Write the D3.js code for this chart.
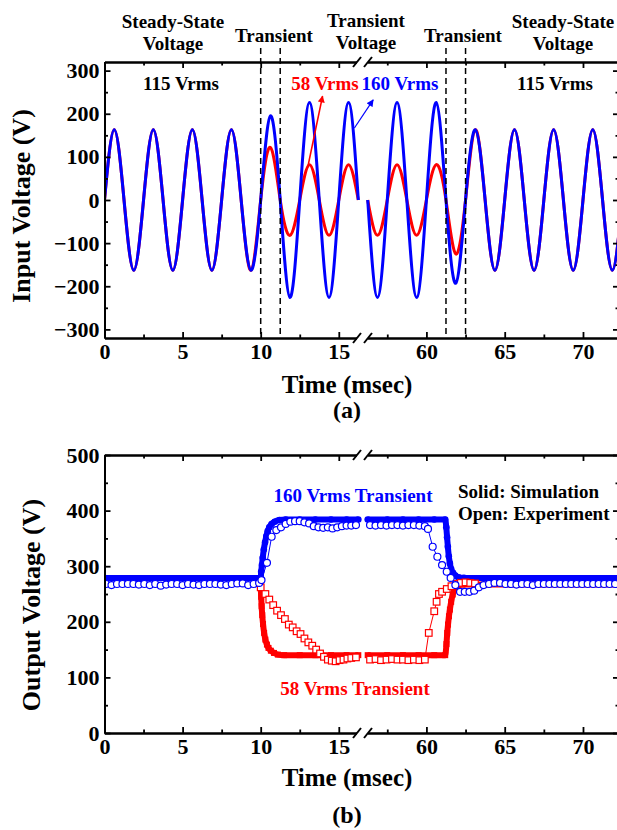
<!DOCTYPE html>
<html>
<head>
<meta charset="utf-8">
<script src="https://cdn.jsdelivr.net/npm/d3@7"></script>
<style>
  body { margin: 0; background: #fff; }
  text { font-family: "Liberation Serif", "Times New Roman", serif; font-weight: bold; }
</style>
</head>
<body>
<svg id="fig" width="617" height="830"></svg>
<script>
// ---------- data ----------
// time axis (ms) with a break between the two recorded windows
const timeBreak = [16.55, 55.95];
const timeEnd = 72.3;
const timeMajorTicks = [0, 5, 10, 15, 60, 65, 70];
const timeMinorTicks = [2.5, 7.5, 12.5, 57.5, 62.5, 67.5];

// (a) input voltage: peak value of every 400 Hz half-cycle (1.25 ms each)
const halfCycleMs = 1.25;
const windowStarts = [0, 56.25];
const inBluePeaksA = [163, -163, 163, -163, 163, -163, 163, -163, 195, -226, 226, -226, 226];
const inRedPeaksA  = [163, -163, 163, -163, 163, -163, 163, -163, 122, -82, 82, -82, 82];
const inBluePeaksB = [-226, 226, -226, 226, -193, 163, -163, 163, -163, 163, -163, 163, -163];
const inRedPeaksB  = [-82, 82, -82, 82, -125, 163, -163, 163, -163, 163, -163, 163, -163];
const transientEdges = [10, 11.25, 61.25, 62.5];
const inYMajor = [-300, -200, -100, 0, 100, 200, 300];
const inYMinor = [-250, -150, -50, 50, 150, 250];

// (b) output voltage, simulation (solid) — [time ms, volts], null splits the windows
const blueSim = [[0,279],[10.0,279],[10.03,290],[10.08,302],[10.13,315],[10.2,330],[10.28,343],[10.36,354],
  [10.45,363],[10.55,370],[10.7,376],[10.9,380],[11.2,383],[11.6,384],[12.5,384],[13.5,384],[14.5,384],[15.5,384],[16.25,384],
  null,
  [56.25,384],[57.5,384],[58.5,384],[59.5,384],[60.5,384],[61.2,384],[61.27,370],[61.32,352],[61.37,335],[61.43,318],
  [61.5,305],[61.58,295],[61.7,288],[61.85,283],[62.05,280],[62.4,279],[72.3,279]];
const redSimSteady = [[0,264],[10.0,264]];
const redSim = [[10.0,264],[10.03,245],[10.06,228],[10.1,212],[10.15,196],[10.22,180],[10.3,168],[10.4,159],
  [10.5,153],[10.65,148],[10.85,144],[11.1,141],[11.5,140],[12.5,140],[13.5,140],[14.5,140],[15.5,140],[16.25,140],
  null,
  [56.25,140],[57.5,140],[58.5,140],[59.5,140],[60.5,140],[61.2,140],[61.28,160],[61.33,180],[61.38,195],[61.44,210],
  [61.5,222],[61.58,236],[61.68,249],[61.8,258],[62.0,264],[62.3,267],[72.3,267]];

// (b) output voltage, experiment (open)
const blueExp = [[0.1,268],[0.45,266],[0.8,268],[1.15,268],[1.5,268],[1.85,268],[2.2,267],[2.55,268],[2.9,266],
  [3.25,268],[3.6,265],[3.95,267],[4.3,268],[4.65,268],[5.0,266],[5.35,268],[5.7,267],[6.05,266],[6.4,268],
  [6.75,268],[7.1,268],[7.45,267],[7.8,266],[8.15,268],[8.5,269],[8.85,269],[9.2,266],[9.55,268],[9.9,270],
  [10.05,275],[10.4,306],[10.7,353],[11.0,365],[11.3,370],[11.6,376],[11.9,380],[12.2,381],[12.5,381],[12.8,379],
  [13.1,377],[13.4,372],[13.7,370],[14.0,369],[14.3,370],[14.6,368],[14.9,370],[15.2,372],[15.5,373],[15.8,373],[16.1,374],
  null,
  [56.4,374],[56.75,373],[57.1,374],[57.45,373],[57.8,374],[58.15,374],[58.5,373],[58.85,374],[59.2,374],
  [59.55,373],[59.9,372],[60.1,367],[60.4,335],[60.7,317],[61.0,302],[61.3,290],[61.55,279],[61.85,266],
  [62.15,254],[62.45,254],[62.75,254],[63.05,256],[63.35,262],[63.65,266],[64.0,268],[64.35,270],[64.7,270],
  [65.05,268],[65.4,268],[65.75,267],[66.1,268],[66.45,268],[66.8,266],[67.15,268],[67.5,268],[67.85,268],
  [68.2,268],[68.55,268],[68.9,268],[69.25,268],[69.6,268],[69.95,268],[70.3,268],[70.65,268],[71.0,268],
  [71.35,268],[71.7,268],[72.05,268]];
const redExp = [[10.0,262],[10.3,250],[10.55,240],[10.8,230],[11.05,220],[11.3,212],[11.55,205],[11.8,195],
  [12.05,190],[12.3,183],[12.55,178],[12.8,170],[13.05,163],[13.3,157],[13.55,150],[13.8,143],[14.05,137],
  [14.3,132],[14.55,130],[14.8,129],[15.05,131],[15.3,132],[15.55,134],[15.8,135],[16.1,136],
  null,
  [56.4,132],[56.75,133],[57.1,131],[57.45,132],[57.8,133],[58.15,132],[58.5,132],[58.85,131],[59.2,132],
  [59.55,131],[59.9,132],[60.15,180],[60.5,219],[60.65,236],[60.8,250],[61.0,254],[61.3,259],[61.6,264],
  [61.9,268],[62.2,270],[62.5,271],[62.8,270],[63.1,269]];
const outYMajor = [0, 100, 200, 300, 400, 500];
const outYMinor = [50, 150, 250, 350, 450];

// ---------- drawing ----------
const BLUE = "#0000ff", RED = "#ff0000";
const svg = d3.select("#fig");

const x = d3.scaleLinear()
  .domain([0, timeBreak[0], timeBreak[1], timeEnd])
  .range([104.5, 363, 363, 619]);

const panels = [
  { y: d3.scaleLinear().domain([-320, 320]).range([338, 62]), major: inYMajor, minor: inYMinor,
    title: "Input Voltage (V)", titleX: 30, titleY: 206, xTitleY: 393, tag: "(a)", tagY: 418 },
  { y: d3.scaleLinear().domain([0, 500]).range([733, 455]), major: outYMajor, minor: outYMinor,
    title: "Output Voltage (V)", titleX: 40, titleY: 605, xTitleY: 786, tag: "(b)", tagY: 823 }
];

function styleAxis(g, fontSize) {
  g.attr("font-family", null).attr("font-size", null);
  g.selectAll("path.domain").attr("stroke", "#000").attr("stroke-width", 2);
  g.selectAll(".tick line").attr("stroke", "#000").attr("stroke-width", 1.8);
  g.selectAll(".tick text").attr("fill", "#000").style("font-size", fontSize + "px");
}

function drawFrame(p) {
  const [y0, y1] = p.y.range();
  const [xl, xr] = [x.range()[0], x.range()[3]];
  // bottom
  svg.append("g").attr("transform", `translate(0,${y0})`)
    .call(d3.axisBottom(x).tickValues(timeMajorTicks).tickSizeInner(-6).tickSizeOuter(0).tickPadding(5).tickFormat(d3.format("d")))
    .call(g => styleAxis(g, 22));
  svg.append("g").attr("transform", `translate(0,${y0})`)
    .call(d3.axisBottom(x).tickValues(timeMinorTicks).tickSizeInner(-3.5).tickSizeOuter(0).tickFormat(""))
    .call(g => styleAxis(g, 22));
  // top
  svg.append("g").attr("transform", `translate(0,${y1})`)
    .call(d3.axisTop(x).tickValues(timeMajorTicks).tickSizeInner(-6).tickSizeOuter(0).tickFormat(""))
    .call(g => styleAxis(g, 22));
  svg.append("g").attr("transform", `translate(0,${y1})`)
    .call(d3.axisTop(x).tickValues(timeMinorTicks).tickSizeInner(-3.5).tickSizeOuter(0).tickFormat(""))
    .call(g => styleAxis(g, 22));
  // left
  svg.append("g").attr("transform", `translate(${xl},0)`)
    .call(d3.axisLeft(p.y).tickValues(p.major).tickSizeInner(-6).tickSizeOuter(0).tickPadding(5).tickFormat(d3.format("d")))
    .call(g => styleAxis(g, 22));
  svg.append("g").attr("transform", `translate(${xl},0)`)
    .call(d3.axisLeft(p.y).tickValues(p.minor).tickSizeInner(-3.5).tickSizeOuter(0).tickFormat(""))
    .call(g => styleAxis(g, 22));
  // right
  svg.append("g").attr("transform", `translate(${xr},0)`)
    .call(d3.axisRight(p.y).tickValues(p.major).tickSizeInner(-6).tickSizeOuter(0).tickFormat(""))
    .call(g => styleAxis(g, 22));
  svg.append("g").attr("transform", `translate(${xr},0)`)
    .call(d3.axisRight(p.y).tickValues(p.minor).tickSizeInner(-3.5).tickSizeOuter(0).tickFormat(""))
    .call(g => styleAxis(g, 22));

  // axis break marks on the horizontal axes
  const bx = x(timeBreak[0]);
  [y0, y1].forEach(yy => {
    svg.append("rect").attr("x", bx - 6).attr("y", yy - 3).attr("width", 11).attr("height", 6).attr("fill", "#fff");
    [-6, 5].forEach(off => {
      svg.append("line")
        .attr("x1", bx + off - 4).attr("y1", yy + 5)
        .attr("x2", bx + off + 4).attr("y2", yy - 5)
        .attr("stroke", "#000").attr("stroke-width", 2);
    });
  });

  // axis titles
  svg.append("text").attr("transform", `translate(${p.titleX},${p.titleY}) rotate(-90)`)
    .attr("text-anchor", "middle").style("font-size", "26px").text(p.title);
  svg.append("text").attr("x", 347).attr("y", p.xTitleY)
    .attr("text-anchor", "middle").style("font-size", "25px").text("Time (msec)");
  svg.append("text").attr("x", 347).attr("y", p.tagY)
    .attr("text-anchor", "middle").style("font-size", "24px").text(p.tag);
}

// clip regions
const defs = svg.append("defs");
panels.forEach((p, i) => {
  const [y0, y1] = p.y.range();
  defs.append("clipPath").attr("id", "clip" + i).append("rect")
    .attr("x", x.range()[0]).attr("y", y1).attr("width", x.range()[3] - x.range()[0]).attr("height", y0 - y1);
});
[["arrRed", RED], ["arrBlue", BLUE]].forEach(([id, c]) => {
  defs.append("marker").attr("id", id).attr("viewBox", "0 0 10 10").attr("refX", 9).attr("refY", 5)
    .attr("markerWidth", 8).attr("markerHeight", 7).attr("markerUnits", "userSpaceOnUse").attr("orient", "auto")
    .append("path").attr("d", "M0,0L10,5L0,10z").attr("fill", c);
});

// ---------- panel (a): input voltage ----------
const pa = panels[0];
function waveKnots(start, peaks) {
  const pts = [[start, 0]];
  peaks.forEach((pk, k) => {
    const t0 = start + k * halfCycleMs;
    pts.push([t0 + halfCycleMs / 2, pk]);
    pts.push([t0 + halfCycleMs, 0]);
  });
  return pts;
}
const waveLine = d3.line().x(d => x(d[0])).y(d => pa.y(d[1])).curve(d3.curveNatural);
const ga = svg.append("g").attr("clip-path", "url(#clip0)");
[[inRedPeaksA, inRedPeaksB, RED], [inBluePeaksA, inBluePeaksB, BLUE]].forEach(([a, b, c]) => {
  [[windowStarts[0], a], [windowStarts[1], b]].forEach(([s, pk]) => {
    ga.append("path").attr("d", waveLine(waveKnots(s, pk)))
      .attr("fill", "none").attr("stroke", c).attr("stroke-width", 3).attr("stroke-linejoin", "round");
  });
});

// transient boundaries
transientEdges.forEach(t => {
  svg.append("line").attr("x1", x(t)).attr("x2", x(t)).attr("y1", 48).attr("y2", pa.y.range()[0])
    .attr("stroke", "#000").attr("stroke-width", 1.5).attr("stroke-dasharray", "6,4");
});

// headings above panel (a)
const headings = [
  { lines: ["Steady-State", "Voltage"], at: 173, base: [28, 50] },
  { lines: ["Transient"], at: 274, base: [42] },
  { lines: ["Transient", "Voltage"], at: 366, base: [27, 49] },
  { lines: ["Transient"], at: 463, base: [42] },
  { lines: ["Steady-State", "Voltage"], at: 563, base: [28, 50] }
];
headings.forEach(h => h.lines.forEach((s, i) => {
  svg.append("text").attr("x", h.at).attr("y", h.base[i]).attr("text-anchor", "middle")
    .style("font-size", "19px").text(s);
}));

const levelLabels = [
  { s: "115 Vrms", c: "#000", cx: 181 },
  { s: "58 Vrms", c: RED, cx: 325 },
  { s: "160 Vrms", c: BLUE, cx: 400 },
  { s: "115 Vrms", c: "#000", cx: 555 }
];
levelLabels.forEach(l => {
  svg.append("text").attr("x", l.cx).attr("y", 90).attr("text-anchor", "middle")
    .attr("fill", l.c).style("font-size", "19px").text(l.s);
});
// arrows from the waveforms to their labels
svg.append("line").attr("x1", x(13.0)).attr("y1", pa.y(74)).attr("x2", x(13.96)).attr("y2", pa.y(241))
  .attr("stroke", RED).attr("stroke-width", 1.6).attr("marker-end", "url(#arrRed)");
svg.append("line").attr("x1", x(16.0)).attr("y1", pa.y(167)).attr("x2", x(56.6)).attr("y2", pa.y(232))
  .attr("stroke", BLUE).attr("stroke-width", 1.2).attr("marker-end", "url(#arrBlue)");

drawFrame(pa);

// ---------- panel (b): output voltage ----------
const pb = panels[1];
const gb = svg.append("g").attr("clip-path", "url(#clip1)");
const outLine = (curve) => d3.line().defined(d => d !== null).x(d => x(d[0])).y(d => pb.y(d[1])).curve(curve);

// simulation, red (58 Vrms)
gb.append("path").attr("d", outLine(d3.curveLinear)(redSimSteady))
  .attr("fill", "none").attr("stroke", RED).attr("stroke-width", 1.5);
gb.append("path").attr("d", outLine(d3.curveMonotoneX)(redSim))
  .attr("fill", "none").attr("stroke", RED).attr("stroke-width", 6);
gb.selectAll(null).data(redSim.filter(d => d)).join("rect")
  .attr("x", d => x(d[0]) - 3).attr("y", d => pb.y(d[1]) - 3).attr("width", 6).attr("height", 6).attr("fill", RED);

// simulation, blue (160 Vrms)
gb.append("path").attr("d", outLine(d3.curveMonotoneX)(blueSim))
  .attr("fill", "none").attr("stroke", BLUE).attr("stroke-width", 6);
gb.selectAll(null).data(blueSim.filter(d => d)).join("circle")
  .attr("cx", d => x(d[0])).attr("cy", d => pb.y(d[1])).attr("r", 3.3).attr("fill", BLUE);

// experiment, red
gb.append("path").attr("d", outLine(d3.curveLinear)(redExp))
  .attr("fill", "none").attr("stroke", RED).attr("stroke-width", 1);
gb.selectAll(null).data(redExp.filter(d => d)).join("rect")
  .attr("x", d => x(d[0]) - 3.3).attr("y", d => pb.y(d[1]) - 3.3).attr("width", 6.6).attr("height", 6.6)
  .attr("fill", "#fff").attr("stroke", RED).attr("stroke-width", 1.2);

// experiment, blue
gb.append("path").attr("d", outLine(d3.curveLinear)(blueExp))
  .attr("fill", "none").attr("stroke", BLUE).attr("stroke-width", 1);
gb.selectAll(null).data(blueExp.filter(d => d)).join("circle")
  .attr("cx", d => x(d[0])).attr("cy", d => pb.y(d[1])).attr("r", 3.5)
  .attr("fill", "#fff").attr("stroke", BLUE).attr("stroke-width", 1.2);

// annotations
svg.append("text").attr("x", 353).attr("y", 502).attr("text-anchor", "middle")
  .attr("fill", BLUE).style("font-size", "19px").text("160 Vrms Transient");
svg.append("text").attr("x", 355).attr("y", 695).attr("text-anchor", "middle")
  .attr("fill", RED).style("font-size", "19px").text("58 Vrms Transient");
svg.append("text").attr("x", 458).attr("y", 498).style("font-size", "19px").text("Solid: Simulation");
svg.append("text").attr("x", 458).attr("y", 520).style("font-size", "19px").text("Open: Experiment");

drawFrame(pb);
</script>
</body>
</html>
